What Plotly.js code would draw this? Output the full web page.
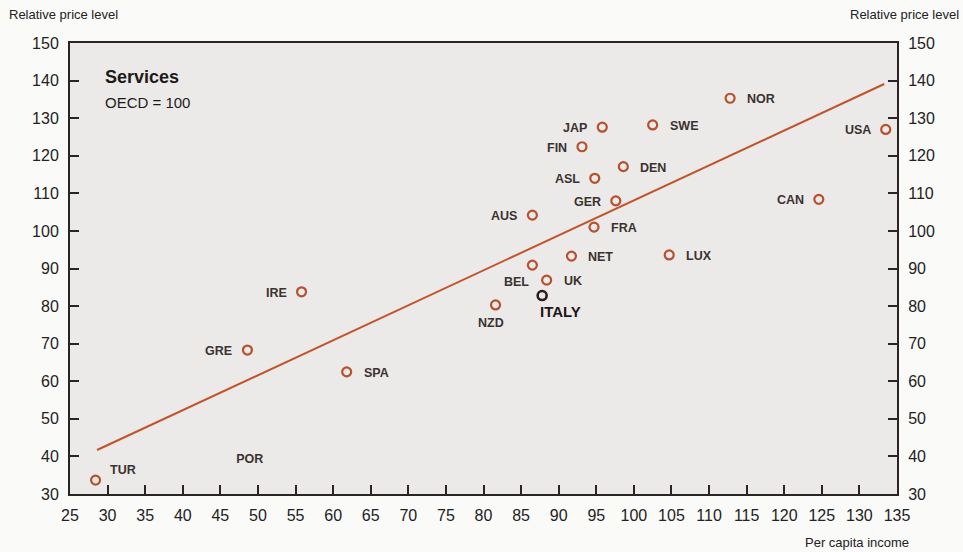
<!DOCTYPE html>
<html>
<head>
<meta charset="utf-8">
<script src="https://cdn.plot.ly/plotly-3.0.1.min.js"></script>
<style>
  html, body { margin: 0; padding: 0; background: #fafaf9; }
  #chart { width: 963px; height: 552px; }
</style>
</head>
<body>
<div id="chart"></div>
<script>
// Services: relative price level vs per capita income (OECD = 100)
const countries = ['TUR','GRE','IRE','SPA','NZD','BEL','UK','NET','AUS','FRA','GER','ASL','DEN','FIN','JAP','SWE','LUX','NOR','USA','CAN'];
const income    = [28.4, 48.6, 55.8, 61.8, 81.6, 86.5, 88.4, 91.7, 86.5, 94.7, 97.6, 94.8, 98.6, 93.1, 95.8, 102.5, 104.7, 112.8, 133.5, 124.6];
const priceLvl  = [33.7, 68.3, 83.8, 62.5, 80.3, 90.9, 86.9, 93.3, 104.2, 101.0, 108.0, 114.0, 117.1, 122.4, 127.6, 128.2, 93.6, 135.3, 127.0, 108.4];
// which side of the marker each country label sits on
const labelSide = ['tr','l','l','r','b','bl','r','r','l','r','l','l','r','l','l','r','r','r','l','l'];

// Italy is highlighted separately
const italyIncome = [87.8];
const italyPrice  = [82.8];

// Portugal: label only
const porIncome = [48.9];
const porPrice  = [39.0];

// Fitted regression line end points
const fitIncome = [28.6, 133.3];
const fitPrice  = [41.7, 139.1];

const xTicks = [25,30,35,40,45,50,55,60,65,70,75,80,85,90,95,100,105,110,115,120,125,130,135];
const yTicks = [30,40,50,60,70,80,90,100,110,120,130,140,150];

const markerColor = '#b5512f';
const lineColor = '#c2532b';
const labelColor = '#3b3230';
const fontFam = '"Liberation Sans", Arial, Helvetica, sans-serif';

// label placement relative to the marker centre (pixels)
const sideStyle = {
  r:  { xanchor: 'left',   xshift: 15,   yshift: -1 },
  l:  { xanchor: 'right',  xshift: -13,  yshift: -1 },
  b:  { xanchor: 'center', xshift: -5,   yshift: -18 },
  bl: { xanchor: 'right',  xshift: -1.5, yshift: -17 },
  tr: { xanchor: 'left',   xshift: 12,   yshift: 10 }
};

const labelFont = { family: fontFam, size: 12.5, color: labelColor, weight: 'bold' };

const countryLabels = countries.map((c, i) => Object.assign({
  text: c, x: income[i], y: priceLvl[i], xref: 'x', yref: 'y',
  yanchor: 'middle', showarrow: false, font: labelFont
}, sideStyle[labelSide[i]]));

const traces = [
  {
    x: fitIncome, y: fitPrice, mode: 'lines',
    line: { color: lineColor, width: 2 },
    hoverinfo: 'skip'
  },
  {
    x: income, y: priceLvl, mode: 'markers',
    marker: { symbol: 'circle-open', size: 9, color: markerColor, line: { width: 2.2, color: markerColor } },
    cliponaxis: false
  },
  {
    x: italyIncome, y: italyPrice, mode: 'markers',
    marker: { symbol: 'circle-open', size: 9, color: '#2a1c1c', line: { width: 2.6, color: '#2a1c1c' } }
  },
  {
    x: porIncome, y: porPrice, mode: 'text',
    text: ['POR'], textposition: 'middle center',
    textfont: labelFont
  },
  {
    // invisible trace to carry the right-hand axis
    x: [25, 135], y: [30, 150], yaxis: 'y2', mode: 'markers',
    marker: { opacity: 0 }, hoverinfo: 'skip'
  }
];

const axisFont = { family: fontFam, size: 16, color: '#222' };

const layout = {
  width: 963, height: 552,
  margin: { l: 70, r: 66, t: 43, b: 58 },
  paper_bgcolor: '#fafaf9',
  plot_bgcolor: '#ebeae8',
  showlegend: false,
  xaxis: {
    range: [25, 135], tickvals: xTicks, ticktext: xTicks.map(String),
    showgrid: false, zeroline: false,
    showline: true, linecolor: '#2a2424', linewidth: 2, mirror: true,
    ticks: 'inside', ticklen: 9, tickwidth: 2, tickcolor: '#2a2424',
    tickfont: axisFont, ticklabelstandoff: 6
  },
  yaxis: {
    range: [30, 150], tickvals: yTicks, ticktext: yTicks.map(String),
    showgrid: false, zeroline: false,
    showline: true, linecolor: '#2a2424', linewidth: 2,
    ticks: 'inside', ticklen: 9, tickwidth: 2, tickcolor: '#2a2424',
    tickfont: axisFont, ticklabelstandoff: 6
  },
  yaxis2: {
    range: [30, 150], tickvals: yTicks, ticktext: yTicks.map(String),
    overlaying: 'y', side: 'right',
    showgrid: false, zeroline: false,
    showline: true, linecolor: '#2a2424', linewidth: 2,
    ticks: 'inside', ticklen: 9, tickwidth: 2, tickcolor: '#2a2424',
    tickfont: axisFont, ticklabelstandoff: 6
  },
  annotations: countryLabels.concat([
    { text: 'ITALY', x: italyIncome[0], y: italyPrice[0], xref: 'x', yref: 'y',
      xanchor: 'left', yanchor: 'middle', xshift: -4.5, yshift: -16, showarrow: false,
      font: { family: fontFam, size: 15, color: '#1e1618', weight: 'bold' } },
    { text: 'Relative price level', xref: 'paper', yref: 'paper', x: -0.0757, y: 1.064,
      xanchor: 'left', yanchor: 'middle', showarrow: false,
      font: { family: fontFam, size: 13, color: '#222' } },
    { text: 'Relative price level', xref: 'paper', yref: 'paper', x: 1.0775, y: 1.064,
      xanchor: 'right', yanchor: 'middle', showarrow: false,
      font: { family: fontFam, size: 13, color: '#222' } },
    { text: 'Per capita income', xref: 'paper', yref: 'paper', x: 1.0165, y: -0.108,
      xanchor: 'right', yanchor: 'middle', showarrow: false,
      font: { family: fontFam, size: 13, color: '#222' } },
    { text: '<b>Services</b>', xref: 'paper', yref: 'paper', x: 0.0400, y: 0.924,
      xanchor: 'left', yanchor: 'middle', showarrow: false,
      font: { family: fontFam, size: 18, color: '#1e1a1a' } },
    { text: 'OECD = 100', xref: 'paper', yref: 'paper', x: 0.0400, y: 0.868,
      xanchor: 'left', yanchor: 'middle', showarrow: false,
      font: { family: fontFam, size: 15, color: '#1e1a1a' } }
  ])
};

Plotly.newPlot('chart', traces, layout, { staticPlot: true, displayModeBar: false });
</script>
</body>
</html>
